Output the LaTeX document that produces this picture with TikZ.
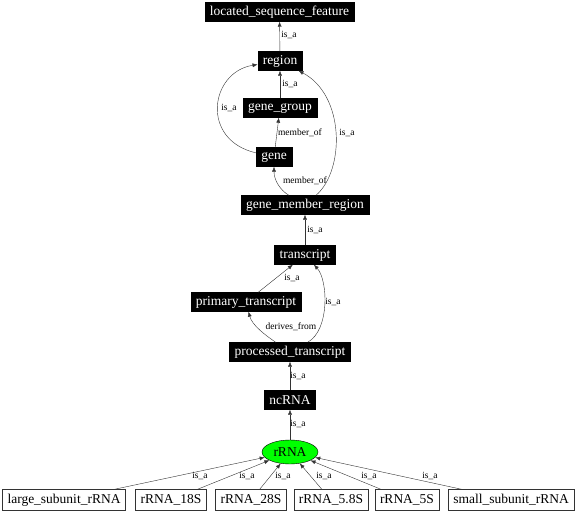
\documentclass[tikz,border=0pt]{standalone}
\usepackage{fontspec}
\setmainfont{Liberation Serif}
\usetikzlibrary{shapes.geometric,arrows.meta}
\begin{document}
\begin{tikzpicture}[x=1pt, y=-1pt,
    term/.style={fill=black, draw=black, text=white, font=\fontsize{13.5}{15}\selectfont, inner xsep=5pt, inner ysep=0pt, minimum height=19pt},
    leaf/.style={draw=black!80, fill=white, font=\fontsize{13.5}{15}\selectfont, inner xsep=5pt, inner ysep=0pt, minimum height=21pt},
    focus/.style={ellipse, draw=black, fill=green, font=\fontsize{13.5}{15}\selectfont, inner sep=0pt, minimum width=56pt, minimum height=24pt},
    rel/.style={draw=black!80, -{Latex[length=5pt,width=4pt]}},
    lbl/.style={font=\fontsize{9.5}{10}\selectfont, inner sep=1pt}]
    \useasboundingbox (0,0) rectangle (576,514);

    \node[term] (lsf) at (279.5,12) {located\_sequence\_feature};
    \node[term] (region) at (280,61) {region};
    \node[term] (genegroup) at (280,108) {gene\_group};
    \node[term] (gene) at (274,157) {gene};
    \node[term] (gmr) at (305,205) {gene\_member\_region};
    \node[term] (transcript) at (305,255) {transcript};
    \node[term] (primary) at (246,302) {primary\_transcript};
    \node[term] (processed) at (290,352) {processed\_transcript};
    \node[term] (ncrna) at (290,400) {ncRNA};
    \node[focus] (rrna) at (290,452) {rRNA};

    \draw[rel] (region) -- (lsf) node[lbl] at (289,35) {is\_a};
    \draw[rel] (genegroup) -- (region) node[lbl] at (290,84) {is\_a};
    \draw[rel] (gene) .. controls (200,140) and (210,72) .. (region) node[lbl] at (229,108) {is\_a};
    \draw[rel] (gene) -- (genegroup) node[lbl] at (300,133) {member\_of};
    \draw[rel] (gmr) .. controls (280,190) and (274,180) .. (gene) node[lbl] at (305,181) {member\_of};
    \draw[rel] (gmr) .. controls (345,170) and (345,95) .. (region) node[lbl] at (347,133) {is\_a};
    \draw[rel] (transcript) -- (gmr) node[lbl] at (315,230) {is\_a};
    \draw[rel] (primary) -- (transcript) node[lbl] at (292,278) {is\_a};
    \draw[rel] (processed) .. controls (265,335) and (252,325) .. (primary) node[lbl] at (291,327) {derives\_from};
    \draw[rel] (processed) .. controls (330,330) and (328,280) .. (transcript) node[lbl] at (333,302) {is\_a};
    \draw[rel] (ncrna) -- (processed) node[lbl] at (298,376) {is\_a};
    \draw[rel] (rrna) -- (ncrna) node[lbl] at (298,424) {is\_a};

    \foreach \id/\x/\txt/\lx in {lsu/64/large\_subunit\_rRNA/200, r18/171/rRNA\_18S/247,
        r28/251/rRNA\_28S/283, r58/331/rRNA\_5.8S/324, r5/407/rRNA\_5S/369,
        ssu/511/small\_subunit\_rRNA/430} {
        \node[leaf] (\id) at (\x,500) {\txt};
        \draw[rel] (\id) -- (rrna) node[lbl] at (\lx,476) {is\_a};
    }
\end{tikzpicture}
\end{document}
